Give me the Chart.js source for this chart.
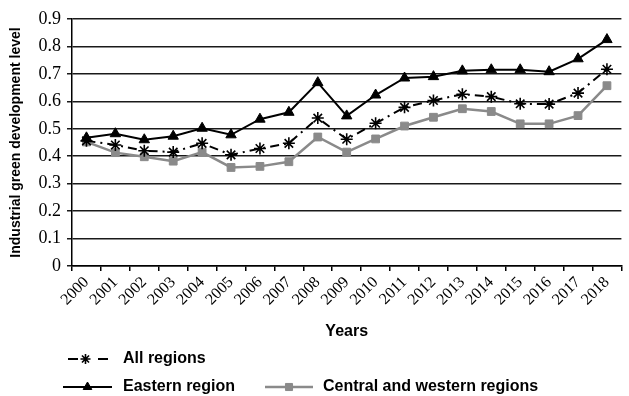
<!DOCTYPE html>
<html>
<head>
<meta charset="utf-8">
<script src="https://cdn.jsdelivr.net/npm/chart.js@4/dist/chart.umd.min.js"></script>
<style>
  html, body { margin: 0; padding: 0; background: #fff; }
  #wrap { width: 629px; height: 396px; position: relative; }
</style>
</head>
<body>
<div id="wrap"><canvas id="c" width="629" height="396"></canvas></div>
<script>
// Industrial green development level by region, 2000–2018
const years = ['2000','2001','2002','2003','2004','2005','2006','2007','2008','2009',
               '2010','2011','2012','2013','2014','2015','2016','2017','2018'];
const allRegions = [0.456, 0.441, 0.420, 0.415, 0.447, 0.405, 0.428, 0.447, 0.539, 0.462,
                    0.520, 0.578, 0.603, 0.626, 0.617, 0.591, 0.590, 0.630, 0.717];
const eastern    = [0.467, 0.482, 0.460, 0.473, 0.502, 0.478, 0.535, 0.560, 0.668, 0.547,
                    0.623, 0.685, 0.690, 0.711, 0.715, 0.715, 0.708, 0.755, 0.825];
const centralWestern = [0.452, 0.413, 0.398, 0.382, 0.415, 0.359, 0.363, 0.380, 0.470, 0.415,
                    0.463, 0.510, 0.542, 0.573, 0.563, 0.518, 0.518, 0.548, 0.657];
const yTicks = [0, 0.1, 0.2, 0.3, 0.4, 0.5, 0.6, 0.7, 0.8, 0.9];
const seriesNames = ['All regions', 'Eastern region', 'Central and western regions'];

const GREY = '#8a8a8a';
const SANS = '"Liberation Sans", Arial, sans-serif';
const SERIF = '"Liberation Serif", "Times New Roman", serif';

// Legend drawn beneath the axis title, two rows, left aligned
const bottomLegend = {
  id: 'bottomLegend',
  afterDraw(chart) {
    const ctx = chart.ctx;
    const items = [
      { ds: 0, x: 63,  y: 359, w: 45, tx: 123 },
      { ds: 1, x: 63,  y: 387, w: 49, tx: 123 },
      { ds: 2, x: 265, y: 387, w: 48, tx: 323 }
    ];
    ctx.save();
    items.forEach(it => {
      const ds = chart.data.datasets[it.ds];
      ctx.setLineDash([]);
      ctx.strokeStyle = ds.borderColor;
      ctx.lineWidth = ds.borderWidth;
      ctx.beginPath();
      if (it.ds === 0) {
        ctx.moveTo(it.x + 5, it.y); ctx.lineTo(it.x + 15, it.y);
        ctx.moveTo(it.x + 35, it.y); ctx.lineTo(it.x + 45, it.y);
      } else {
        ctx.moveTo(it.x, it.y); ctx.lineTo(it.x + it.w, it.y);
      }
      ctx.stroke();
      ctx.fillStyle = ds.pointBackgroundColor;
      ctx.strokeStyle = ds.pointBorderColor;
      ctx.lineWidth = ds.pointBorderWidth;
      Chart.helpers.drawPoint(ctx, {
        pointStyle: ds.pointStyle,
        radius: 5,
        borderWidth: ds.pointBorderWidth,
        rotation: 0
      }, it.x + it.w / 2, it.y);
      ctx.fillStyle = '#000';
      ctx.font = 'bold 16px ' + SANS;
      ctx.textBaseline = 'middle';
      ctx.textAlign = 'left';
      ctx.fillText(seriesNames[it.ds], it.tx, it.y);
    });
    ctx.restore();
  }
};

const cfg = {
  type: 'line',
  data: {
    labels: years,
    datasets: [
      {
        label: seriesNames[0], data: allRegions,
        borderColor: '#000', borderWidth: 2, borderDash: [9, 5, 2, 5],
        pointStyle: 'star', pointRadius: 6, pointBorderWidth: 1.6,
        pointBorderColor: '#000', pointBackgroundColor: '#000',
        tension: 0, order: 1
      },
      {
        label: seriesNames[1], data: eastern,
        borderColor: '#000', borderWidth: 2,
        pointStyle: 'triangle', pointRadius: 6, pointBorderWidth: 1,
        pointBorderColor: '#000', pointBackgroundColor: '#000',
        tension: 0, order: 0
      },
      {
        label: seriesNames[2], data: centralWestern,
        borderColor: GREY, borderWidth: 2.5,
        pointStyle: 'rect', pointRadius: 5.5, pointBorderWidth: 1,
        pointBorderColor: GREY, pointBackgroundColor: GREY,
        tension: 0, order: 2
      }
    ]
  },
  options: {
    responsive: false,
    animation: false,
    layout: { padding: { top: 19, right: 1, bottom: 0, left: 0 } },
    plugins: { legend: { display: false }, tooltip: { enabled: false } },
    scales: {
      x: {
        offset: true,
        afterFit: s => { s.height = 130; },
        grid: { offset: true, drawOnChartArea: false, drawTicks: true, tickLength: 5, color: '#000', lineWidth: 1.5 },
        border: { display: true, color: '#000', width: 1.5 },
        ticks: { color: '#000', minRotation: 45, maxRotation: 45, autoSkip: false, padding: 2,
                 font: { family: SERIF, size: 16 } },
        title: { display: true, text: 'Years', color: '#000',
                 font: { family: SANS, size: 16, weight: 'bold' }, padding: { top: 0, bottom: 55 } }
      },
      y: {
        min: 0, max: 0.9,
        afterFit: s => { s.width = 72; },
        afterBuildTicks: s => { s.ticks = yTicks.map(v => ({ value: v })); },
        grid: { color: '#1a1a1a', lineWidth: 1.5, tickLength: 5, drawTicks: true },
        border: { display: true, color: '#000', width: 1.5 },
        ticks: { color: '#000', padding: 6, font: { family: SERIF, size: 18 },
                 callback: v => String(+(+v).toFixed(1)) },
        title: { display: true, text: 'Industrial green development level', color: '#000',
                 font: { family: SANS, size: 14, weight: 'bold' }, padding: { top: 8, bottom: 0 } }
      }
    }
  },
  plugins: [bottomLegend]
};

new Chart(document.getElementById('c'), cfg);
</script>
</body>
</html>
